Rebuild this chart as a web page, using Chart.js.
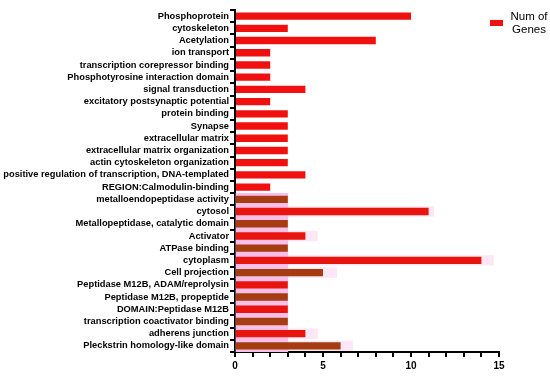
<!DOCTYPE html>
<html>
<head>
<meta charset="utf-8">
<script src="https://cdn.jsdelivr.net/npm/chart.js@4"></script>
<style>
  html, body { margin: 0; padding: 0; background: #fff; }
  #wrap { width: 550px; height: 378px; position: relative; }
</style>
</head>
<body>
<div id="wrap"><canvas id="geneChart" width="550" height="378"></canvas></div>
<script>
const categories = [
  "Phosphoprotein", "cytoskeleton", "Acetylation", "ion transport",
  "transcription corepressor binding", "Phosphotyrosine interaction domain",
  "signal transduction", "excitatory postsynaptic potential", "protein binding",
  "Synapse", "extracellular matrix", "extracellular matrix organization",
  "actin cytoskeleton organization",
  "positive regulation of transcription, DNA-templated",
  "REGION:Calmodulin-binding", "metalloendopeptidase activity", "cytosol",
  "Metallopeptidase, catalytic domain", "Activator", "ATPase binding",
  "cytoplasm", "Cell projection", "Peptidase M12B, ADAM/reprolysin",
  "Peptidase M12B, propeptide", "DOMAIN:Peptidase M12B",
  "transcription coactivator binding", "adherens junction",
  "Pleckstrin homology-like domain"
];
const numGenes = [10, 3, 8, 2, 2, 2, 4, 2, 3, 3, 3, 3, 3, 4, 2, 3, 11, 3, 4, 3, 14, 5, 3, 3, 3, 3, 4, 6];
// pink shading behind the lower block of rows
const shadeStrong = [null, null, null, null, null, null, null, null, null, null, null, null, null, null, null,
  3, 3, 3, 3, 3, 3, 3, 3, 3, 3, 3, 3, 3];
const shadeFaint = [null, null, null, null, null, null, null, null, null, null, null, null, null, null, null,
  null, 11.3, null, 4.7, null, 14.7, 5.8, null, null, null, null, 4.7, 6.7];
const xTicks = [0, 5, 10, 15];

const red = '#f01010';
const brown = '#a63c12';
const barColors = numGenes.map((v, i) => (i >= 15 && (i - 15) % 2 === 0) ? brown : (i >= 15 ? '#e8140e' : red));

const legendPlugin = {
  id: 'sideLegend',
  afterDraw(chart) {
    const ctx = chart.ctx;
    ctx.save();
    ctx.fillStyle = red;
    ctx.fillRect(490, 20, 13, 6);
    ctx.fillStyle = '#000';
    ctx.font = '11.5px "Liberation Sans", Arial, sans-serif';
    ctx.textAlign = 'center';
    ctx.textBaseline = 'middle';
    ctx.fillText('Num of', 529, 17);
    ctx.fillText('Genes', 529, 30);
    ctx.restore();
  }
};

const ctx = document.getElementById('geneChart').getContext('2d');
new Chart(ctx, {
  type: 'bar',
  data: {
    labels: categories,
    datasets: [
      {
        label: 'Num of Genes',
        data: numGenes,
        backgroundColor: barColors,
        barPercentage: 0.6,
        categoryPercentage: 1,
        grouped: false,
        order: 0
      },
      {
        label: 'shade',
        data: shadeStrong,
        backgroundColor: '#f8bfe8',
        barPercentage: 1,
        categoryPercentage: 1,
        grouped: false,
        order: 1
      },
      {
        label: 'shade2',
        data: shadeFaint,
        backgroundColor: '#fde6f5',
        barPercentage: 0.85,
        categoryPercentage: 1,
        grouped: false,
        order: 2
      }
    ]
  },
  options: {
    indexAxis: 'y',
    responsive: false,
    animation: false,
    layout: { padding: { top: 10, right: 51, bottom: 0, left: 0 } },
    plugins: {
      legend: { display: false },
      tooltip: { enabled: false }
    },
    scales: {
      x: {
        min: 0,
        max: 15,
        afterBuildTicks: axis => { axis.ticks = Array.from({length: 16}, (_, i) => ({ value: i })); },
        ticks: {
          autoSkip: false,
          maxRotation: 0,
          padding: 3,
          color: '#000',
          font: { family: '"Liberation Sans", Arial, sans-serif', size: 10, weight: 'bold' },
          callback: v => xTicks.includes(v) ? v : ''
        },
        grid: { drawOnChartArea: false, tickLength: 5, color: '#000', lineWidth: 2 },
        border: { display: true, color: '#000', width: 2 },
        afterFit: s => { s.height = 26; }
      },
      y: {
        ticks: {
          autoSkip: false,
          padding: 1,
          color: '#000',
          font: { family: '"Liberation Sans", Arial, sans-serif', size: 9.3, weight: 'bold' }
        },
        grid: { drawOnChartArea: false, tickLength: 5, color: '#000', lineWidth: 2 },
        border: { display: true, color: '#000', width: 2 },
        afterFit: s => { s.width = 235; }
      }
    }
  },
  plugins: [legendPlugin]
});
</script>
</body>
</html>
